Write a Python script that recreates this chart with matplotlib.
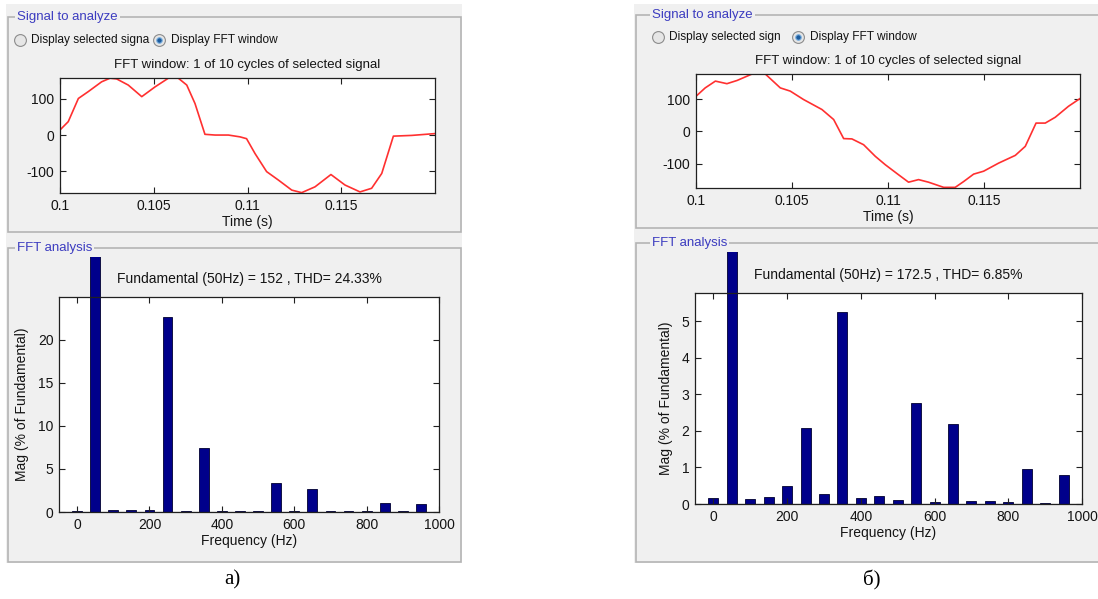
import matplotlib.pyplot as plt
from matplotlib.lines import Line2D
from matplotlib.patches import Rectangle
from matplotlib.transforms import Bbox, TransformedBbox

W, H = 1098, 599

# harmonic spectrum (% of fundamental), 0..950 Hz in 50 Hz steps
harm_freq = [0, 50, 100, 150, 200, 250, 300, 350, 400, 450,
             500, 550, 600, 650, 700, 750, 800, 850, 900, 950]
mag_a = [0.15, 100, 0.2, 0.2, 0.25, 22.7, 0.08, 7.45, 0.1, 0.08,
         0.08, 3.42, 0.1, 2.69, 0.08, 0.08, 0.1, 1.1, 0.08, 0.93]
mag_b = [0.17, 100, 0.14, 0.19, 0.5, 2.07, 0.28, 5.25, 0.16, 0.22,
         0.12, 2.78, 0.05, 2.18, 0.08, 0.08, 0.05, 0.97, 0.02, 0.8]

# one cycle of the analysed signal
t_a = [0.1, 0.10044, 0.10098, 0.10151, 0.10222, 0.10267, 0.10302, 0.10364, 0.10436, 0.10507,
       0.10578, 0.10631, 0.10676, 0.1072, 0.10773, 0.10827, 0.10898, 0.1096, 0.10995, 0.1104,
       0.11102, 0.11164, 0.11236, 0.11289, 0.1136, 0.11445, 0.1152, 0.116, 0.11662, 0.11716,
       0.11778, 0.11876, 0.12]
v_a = [14, 37, 101, 120, 147, 157, 155, 138, 106, 133,
       157, 157, 138, 87, 2, 0, 0, -5, -10, -51,
       -101, -124, -152, -159, -143, -109, -138, -157, -147, -106,
       -3, -1, 4]
t_b = [0.1, 0.10048, 0.10101, 0.10161, 0.10214, 0.10292, 0.10361, 0.10439, 0.10491, 0.1056,
       0.10656, 0.10717, 0.10769, 0.10812, 0.10873, 0.10934, 0.10986, 0.11055, 0.11107, 0.11159,
       0.11211, 0.1129, 0.1135, 0.11394, 0.11446, 0.11498, 0.11576, 0.11663, 0.11715, 0.11771,
       0.11819, 0.11871, 0.1194, 0.12]
v_b = [109, 135, 156, 148, 158, 178, 178, 135, 125, 99,
       68, 37, -22, -23, -41, -77, -103, -134, -157, -149,
       -157, -173, -173, -155, -132, -123, -98, -74, -46, 26,
       26, 44, 78, 102]

fund_text = ["Fundamental (50Hz) = 152 , THD= 24.33%",
             "Fundamental (50Hz) = 172.5 , THD= 6.85%"]
captions = ["а)", "б)"]

GRAY = '#f0f0f0'
EDGE = '#b4b4b4'
BLUE = '#3c3cc0'
TXT = '#141414'
FONT = 'Liberation Sans'

plt.rcParams['font.family'] = [FONT, 'DejaVu Sans']
plt.rcParams['axes.unicode_minus'] = False
fig = plt.figure(figsize=(W / 100, H / 100), dpi=100)
fig.patch.set_facecolor('white')


def fx(x):
    return x / W


def fy(y):
    return 1 - y / H


def rect(x0, y0, x1, y1):
    return [fx(x0), fy(y1), (x1 - x0) / W, (y1 - y0) / H]


def frame(x0, y0, x1, y1, title, tx):
    fig.add_artist(Rectangle((fx(x0), fy(y1)), (x1 - x0) / W, (y1 - y0) / H,
                             transform=fig.transFigure, fill=False, ec=EDGE, lw=1.2))
    fig.text(fx(tx), fy(y0), title, color=BLUE, fontsize=9.5, va='center', ha='left',
             bbox=dict(fc=GRAY, ec='none', pad=1.5))


def radio(x, y, on):
    fig.add_artist(Line2D([fx(x)], [fy(y)], marker='o', ms=8.5, mfc='#e6e6e6', mec='#8c8c8c',
                          mew=0.8, transform=fig.transFigure))
    if on:
        fig.add_artist(Line2D([fx(x)], [fy(y)], marker='o', ms=4, mfc='#1d5c9e', mec='#7fb2e0',
                              mew=0.8, transform=fig.transFigure))


def style(ax):
    ax.set_facecolor('white')
    for s in ax.spines.values():
        s.set_color('#202020')
        s.set_linewidth(0.9)
    ax.tick_params(direction='in', length=4, width=0.8, top=True, right=True,
                   labelsize=10, labelcolor=TXT, color='#202020', pad=4)


panels = [
    dict(x0=6, x1=462, top=(15, 17, 232), bot=(248, 562), tx=17,
         r1=20, r2=159, ry=40, rtxt="Display selected signa",
         ax_top=(60, 78, 435, 193), ax_bot=(59, 297, 439, 512),
         t=t_a, v=v_a, ylim=(-160, 157.5), mag=mag_a, ymax=24.97, yticks=[0, 5, 10, 15, 20],
         clip_top=257, cap_x=232),
    dict(x0=634, x1=1100, top=(13, 15, 228), bot=(243, 562), tx=652,
         r1=658, r2=798, ry=37, rtxt="Display selected sign",
         ax_top=(696, 74, 1080, 188), ax_bot=(695, 293, 1082, 504),
         t=t_b, v=v_b, ylim=(-175, 178), mag=mag_b, ymax=5.78, yticks=[0, 1, 2, 3, 4, 5],
         clip_top=252, cap_x=872),
]

for i, p in enumerate(panels):
    # gray GUI background and etched frames
    fig.add_artist(Rectangle((fx(p['x0']), fy(563)), (p['x1'] - p['x0']) / W, (563 - 4) / H,
                             transform=fig.transFigure, fc=GRAY, ec='none', zorder=0))
    frame(p['x0'] + 2, p['top'][1], p['x1'] - 1, p['top'][2], "Signal to analyze", p['tx'])
    frame(p['x0'] + 2, p['bot'][0], p['x1'] - 1, p['bot'][1], "FFT analysis", p['tx'])

    radio(p['r1'], p['ry'], False)
    fig.text(fx(p['r1'] + 11), fy(p['ry']), p['rtxt'], fontsize=8.6, color=TXT, va='center')
    radio(p['r2'], p['ry'], True)
    fig.text(fx(p['r2'] + 12), fy(p['ry']), "Display FFT window", fontsize=8.6, color=TXT,
             va='center')

    # time-domain window
    ax = fig.add_axes(rect(*p['ax_top']))
    ax.plot(p['t'], p['v'], color='#ff3030', lw=1.2)
    ax.set_xlim(0.1, 0.12)
    ax.set_ylim(*p['ylim'])
    ax.set_xticks([0.1, 0.105, 0.11, 0.115])
    ax.set_xticklabels(['0.1', '0.105', '0.11', '0.115'])
    ax.set_yticks([-100, 0, 100])
    ax.set_xlabel('Time (s)', fontsize=10, color=TXT, labelpad=2)
    ax.set_title('FFT window: 1 of 10 cycles of selected signal', fontsize=9.5, color=TXT,
                 pad=7)
    style(ax)

    # spectrum
    ax2 = fig.add_axes(rect(*p['ax_bot']))
    bars = ax2.bar(harm_freq, p['mag'], width=27, color='#00008b', edgecolor='#000030',
                   linewidth=0.6)
    fund = bars[1]
    fund.set_clip_path(None)
    fund.set_clip_box(TransformedBbox(Bbox.from_extents(0, 0, 1, fy(p['clip_top'])),
                                      fig.transFigure))
    ax2.axhline(0, color='#202020', lw=0.8)
    ax2.set_xlim(-50, 1000)
    ax2.set_ylim(0, p['ymax'])
    ax2.set_xticks([0, 200, 400, 600, 800, 1000])
    ax2.set_yticks(p['yticks'])
    ax2.set_xlabel('Frequency (Hz)', fontsize=10, color=TXT, labelpad=2)
    ax2.set_ylabel('Mag (% of Fundamental)', fontsize=10, color=TXT, labelpad=6)
    ax2.set_title(fund_text[i], fontsize=10, color=TXT, pad=10)
    style(ax2)

    fig.text(fx(p['cap_x']), fy(580), captions[i], fontsize=15, ha='center', va='center',
             family='Liberation Serif', color='black')

fig.savefig('out.png', dpi=100, facecolor='white')
